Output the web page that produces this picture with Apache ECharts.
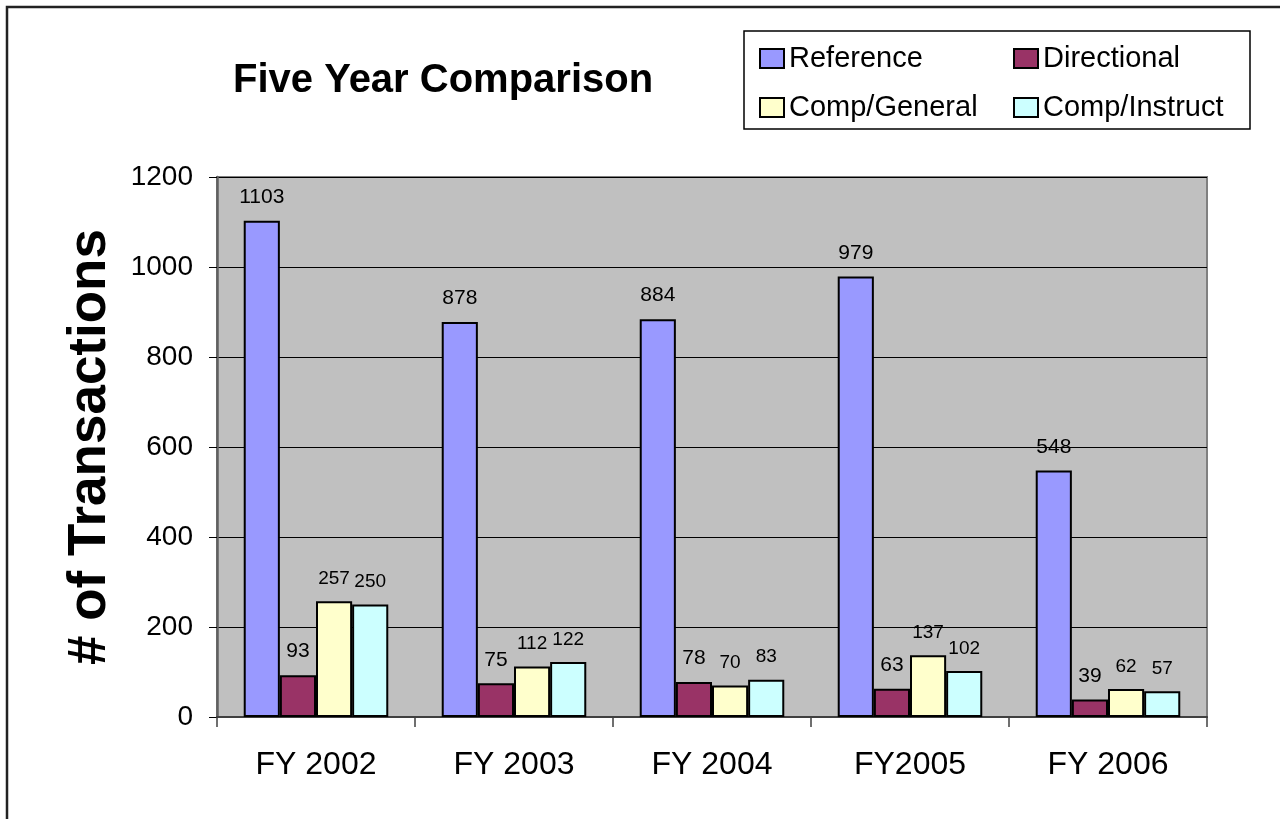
<!DOCTYPE html>
<html>
<head>
<meta charset="utf-8">
<script src="https://cdn.jsdelivr.net/npm/echarts@6/dist/echarts.min.js"></script>
<style>html,body{margin:0;padding:0;background:#fff}#c{width:1280px;height:819px}</style>
</head>
<body>
<div id="c"></div>
<script>
const categories = ['FY 2002', 'FY 2003', 'FY 2004', 'FY2005', 'FY 2006'];
const referenceVals = [1103, 878, 884, 979, 548];
const directionalVals = [93, 75, 78, 63, 39];
const compGeneralVals = [257, 112, 70, 137, 62];
const compInstructVals = [250, 122, 83, 102, 57];
const yTicks = { min: 0, max: 1200, interval: 200 };

const FONT = '"Liberation Sans", Arial, sans-serif';
const chart = echarts.init(document.getElementById('c'), null, { renderer: 'canvas' });

function bar(name, data, color, labelSize) {
  return {
    name, type: 'bar', data,
    barGap: '0%', barCategoryGap: '27%',
    itemStyle: { color, borderColor: '#000', borderWidth: 2 },
    label: { show: true, position: 'top', distance: 13, color: '#000', fontSize: labelSize, fontFamily: FONT },
    emphasis: { disabled: true }
  };
}

const legendCommon = {
  orient: 'vertical', top: 44, padding: 0, itemWidth: 24, itemHeight: 19, itemGap: 20,
  icon: 'rect', selectedMode: false,
  itemStyle: { borderColor: '#000', borderWidth: 2 },
  textStyle: { fontSize: 29, fontFamily: FONT, color: '#000', lineHeight: 28, padding: [0, 0, 0, 0] }
};

chart.setOption({
  animation: false,
  backgroundColor: '#fff',
  title: {
    text: 'Five Year Comparison', left: 228, top: 56,
    textStyle: { fontSize: 40, fontWeight: 'bold', fontFamily: FONT, color: '#000' }
  },
  graphic: [
    { type: 'rect', shape: { x: 7, y: 7, width: 1300, height: 900 }, style: { fill: 'none', stroke: '#222', lineWidth: 2.5 }, silent: true },
    { type: 'rect', shape: { x: 744, y: 31, width: 506, height: 98 }, style: { fill: '#fff', stroke: '#000', lineWidth: 1.5 }, silent: true, z: 0 }
  ],
  legend: [
    Object.assign({}, legendCommon, { left: 759, data: ['Reference', 'Comp/General'] }),
    Object.assign({}, legendCommon, { left: 1013, data: ['Directional', 'Comp/Instruct'] })
  ],
  grid: {
    left: 217, right: 73, top: 177, bottom: 102,
    show: true, backgroundColor: '#C0C0C0', borderColor: '#808080', borderWidth: 2
  },
  xAxis: {
    type: 'category', data: categories,
    axisLine: { lineStyle: { color: '#404040', width: 2 } },
    axisTick: { show: true, length: 10, lineStyle: { color: '#404040', width: 1.5 } },
    axisLabel: { fontSize: 32, fontFamily: FONT, color: '#000', margin: 32 }
  },
  yAxis: {
    type: 'value', min: yTicks.min, max: yTicks.max, interval: yTicks.interval,
    name: '# of Transactions', nameLocation: 'middle', nameGap: 100,
    nameTextStyle: { fontSize: 53, fontWeight: 'bold', fontFamily: FONT, color: '#000' },
    axisLine: { show: true, lineStyle: { color: '#606060', width: 2.5 } },
    axisTick: { show: true, length: 8, lineStyle: { color: '#000', width: 1 } },
    axisLabel: { fontSize: 28, fontFamily: FONT, color: '#000', margin: 24, formatter: v => String(v) },
    splitLine: { show: true, lineStyle: { color: '#000', width: 1 } }
  },
  series: [
    bar('Reference', referenceVals, '#9999FF', 21),
    bar('Directional', directionalVals, '#993366', 21),
    bar('Comp/General', compGeneralVals, '#FFFFCC', 19),
    bar('Comp/Instruct', compInstructVals, '#CCFFFF', 19)
  ]
});
</script>
</body>
</html>
